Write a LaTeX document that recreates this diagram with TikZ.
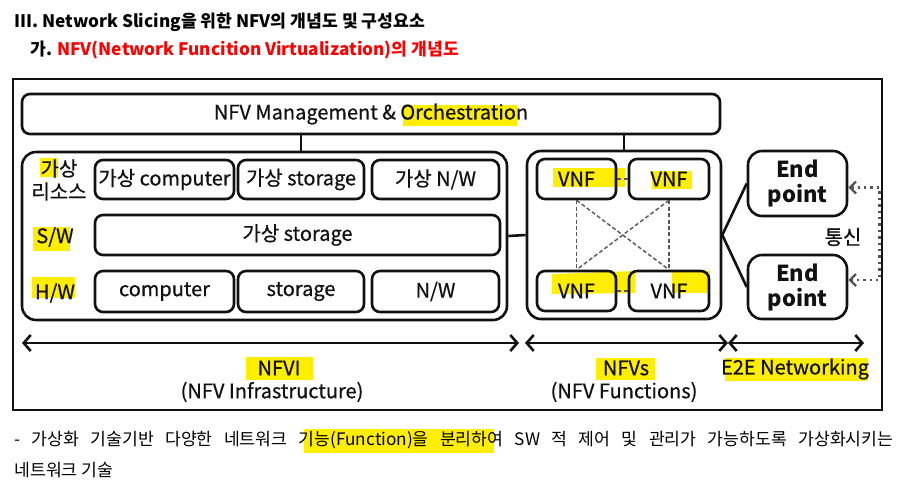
\documentclass[tikz,border=0pt]{standalone}
\usepackage{fontspec}
\setmainfont{Noto Sans CJK KR}
\newfontfamily\dfont[FakeBold=0.6]{Noto Sans CJK KR}
\usetikzlibrary{arrows.meta,fit,backgrounds}
\definecolor{tinta}{HTML}{111111}
\definecolor{rojo}{HTML}{FF0000}
\definecolor{marcador}{HTML}{FFEE00}
\definecolor{trazo}{HTML}{555555}

\begin{document}
\begin{tikzpicture}[x=0.5pt,y=-0.5pt,
    box/.style={draw=tinta,rounded corners=4pt,line width=1.3pt,inner sep=0pt},
    lbl/.style={font=\dfont\fontsize{10}{11.5}\selectfont,text=tinta,align=center,inner sep=0pt},
    eplbl/.style={lbl,font=\fontsize{11}{12.5}\selectfont\bfseries},
    line/.style={draw=tinta,line width=1.3pt},
    link/.style={draw=trazo,dashed,dash pattern=on 2pt off 1.2pt,line width=0.7pt},
    span/.style={draw=tinta,line width=1.3pt,{Straight Barb[length=3.5pt,width=8pt]}-{Straight Barb[length=3.5pt,width=8pt]}},
    hl/.style={fill=marcador,draw=none}]
  \useasboundingbox (0,0) rectangle (911,484);

  % titles
  \node[anchor=west,inner sep=0pt,font=\fontsize{8.6}{11}\selectfont\bfseries] (t1) at (14,22)
    {III. Network Slicing을 위한 NFV의 개념도 및 구성요소};
  \node[anchor=west,inner sep=0pt,font=\fontsize{8.6}{11}\selectfont\bfseries] (t2) at (30,50)
    {가. \textcolor{rojo}{NFV(Network Funcition Virtualization)의 개념도}};

  \node[draw=tinta,line width=1.4pt,inner sep=0pt,fit={(13,79) (882,410)}] (frame) {};

  % management
  \node[box,fit={(22,94) (720,134)},label={[lbl]center:NFV Management \& Orchestration}] (mano) {};

  % NFVI
  \node[box,rounded corners=7pt,fit={(22,152) (507,320)}] (nfvi) {};
  \node[lbl] (lres) at (59,180) {가상\\리소스};
  \node[lbl] (lsw) at (55,237) {S/W};
  \node[lbl] (lhw) at (55,293) {H/W};
  \node[box,fit={(95,160) (234,199)},label={[lbl]center:가상 computer}] (vc) {};
  \node[box,fit={(238,160) (364,199)},label={[lbl]center:가상 storage}] (vs) {};
  \node[box,fit={(372,160) (499,199)},label={[lbl]center:가상 N/W}] (vn) {};
  \node[box,fit={(95,215) (500,255)},label={[lbl]center:가상 storage}] (sw) {};
  \node[box,fit={(95,271) (234,312)},label={[lbl]center:computer}] (hc) {};
  \node[box,fit={(238,271) (364,312)},label={[lbl]center:storage}] (hs) {};
  \node[box,fit={(372,271) (499,312)},label={[lbl]center:N/W}] (hn) {};

  % VNFs
  \node[box,rounded corners=7pt,fit={(527,151) (721,319)}] (vnfs) {};
  \node[box,fit={(537,159) (616,199)},label={[lbl]center:VNF}] (v1) {};
  \node[box,fit={(629,159) (709,199)},label={[lbl]center:VNF}] (v2) {};
  \node[box,fit={(537,271) (616,311)},label={[lbl]center:VNF}] (v3) {};
  \node[box,fit={(629,271) (709,311)},label={[lbl]center:VNF}] (v4) {};

  % end points
  \node[box,rounded corners=7pt,fit={(748,151) (847,216)},label={[eplbl]center:{End\\point}}] (ep1) {};
  \node[box,rounded corners=7pt,fit={(748,255) (847,319)},label={[eplbl]center:{End\\point}}] (ep2) {};
  \node[lbl] (tong) at (843,237) {통신};

  \draw[line] (mano.south -| vs) -- (nfvi.north -| vs);
  \draw[line] (mano.south -| vnfs) -- (vnfs.north);
  \draw[line] (nfvi.east) -- (vnfs.west);
  \draw[line] (vnfs.east) -- (ep1.west);
  \draw[line] (vnfs.east) -- (ep2.west);
  \draw[link] (v1) -- (v2);
  \draw[link] (v3) -- (v4);
  \draw[link] (v1.south) -- (v3.north);
  \draw[link] (v2.south) -- (v4.north);
  \draw[link] (v1.south) -- (v4.north);
  \draw[link] (v2.south) -- (v3.north);
  \draw[draw=trazo,line width=1.2pt,dotted,{Straight Barb[length=3pt,width=6pt]}-{Straight Barb[length=3pt,width=6pt]}]
    ([yshift=-2pt]ep1.east) -- ++(31,0) |- ([yshift=3.5pt]ep2.east);

  % spans
  \coordinate (a0) at (22,343);
  \coordinate (a1) at (519,343);
  \coordinate (a2) at (525,343);
  \coordinate (a3) at (728,343);
  \coordinate (a4) at (864,343);
  \draw[span] (a0) -- (a1);
  \draw[span] (a2) -- (a3);
  \draw[span] (a3) -- (a4);
  \node[lbl] (nfvi-l) at (279,368) {NFVI};
  \node[lbl] (nfvi-s) at (272,392) {(NFV Infrastructure)};
  \node[lbl] (nfvs-l) at (626,368) {NFVs};
  \node[lbl] (nfvs-s) at (624,392) {(NFV Functions)};
  \node[lbl] (e2e) at (795,369) {E2E Networking};

  % note
  \node[anchor=west,inner sep=0pt,font=\fontsize{8.6}{10}\selectfont] (n1) at (14,440)
    {\makebox[439.5pt][s]{- 가상화 기술기반 다양한 네트워크 기능(Function)을 분리하여 SW 적 제어 및 관리가 가능하도록 가상화시키는}};
  \node[anchor=west,inner sep=0pt,font=\fontsize{8.6}{10}\selectfont] (n2) at (14,470) {네트워크 기술};

  % highlighter marks
  \begin{scope}[on background layer]
    \fill[white] (0,0) rectangle (911,484);
    \fill[hl] (403,105) rectangle (517,126);
    \fill[hl] (40,158) rectangle (58,177);
    \fill[hl] (33,227) rectangle (70,251);
    \fill[hl] (32,277) rectangle (75,298);
    \fill[hl] (553,168) rectangle (625,187);
    \fill[hl] (652,171) rectangle (692,189);
    \fill[hl] (552,274) -- (635,271) -- (635,293) -- (552,294) -- cycle;
    \fill[hl] (672,271) rectangle (710,293);
    \fill[hl] (246,357) rectangle (313,380);
    \fill[hl] (596,358) rectangle (655,380);
    \fill[hl] (725,358) rectangle (868,381);
    \fill[hl] (304,429) rectangle (494,453);
  \end{scope}
\end{tikzpicture}
\end{document}
